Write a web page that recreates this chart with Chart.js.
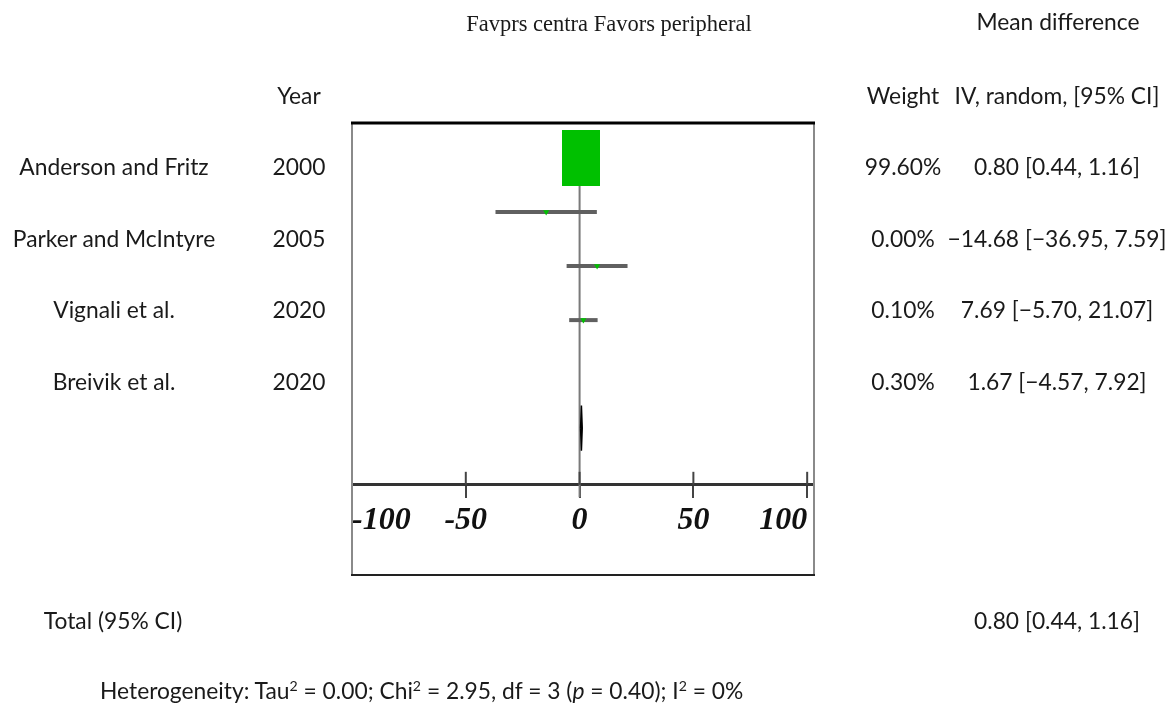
<!DOCTYPE html>
<html>
<head>
<meta charset="utf-8">
<script src="https://cdn.jsdelivr.net/npm/chart.js@4.4.0/dist/chart.umd.min.js"></script>
<style>
html, body { margin: 0; padding: 0; background: #fff; }
#wrap { position: relative; width: 1170px; height: 705px; overflow: hidden; }
#plot { position: absolute; left: 0; top: 0; }
.t {
    position: absolute;
    font-family: Lato, 'Open Sans', sans-serif;
    font-size: 22.8px;
    color: #1a1a1a;
    white-space: nowrap;
    line-height: 1;
    transform: translate(-50%, -50%);
}
.left { transform: translate(0, -50%); }
.serif { font-family: 'Liberation Serif', serif; font-size: 22.5px; }
sup { font-size: 0.62em; vertical-align: 0.55em; line-height: 0; }
</style>
</head>
<body>
<div id="wrap">
    <canvas id="plot" width="1170" height="705"></canvas>
</div>
<script>
// Study data
const studies = ['Anderson and Fritz', 'Parker and McIntyre', 'Vignali et al.', 'Breivik et al.'];
const years = ['2000', '2005', '2020', '2020'];
const weights = ['99.60%', '0.00%', '0.10%', '0.30%'];
const meanDiff = [0.80, -14.68, 7.69, 1.67];
const ciLow = [0.44, -36.95, -5.70, -4.57];
const ciHigh = [1.16, 7.59, 21.07, 7.92];

// Pooled result
const totalMD = 0.80;
const totalLow = 0.44;
const totalHigh = 1.16;

const xTicks = [-100, -50, 0, 50, 100];

const totalRow = 6;   // row of the diamond in plot units
const axisRow = 7.05; // row where the x axis sits

const fmt = v => (v < 0 ? '\u2212' + Math.abs(v).toFixed(2) : v.toFixed(2));
const ciText = (m, lo, hi) => `${fmt(m)} [${fmt(lo)}, ${fmt(hi)}]`;

// Text around the plot
const wrap = document.getElementById('wrap');
function addText(html, x, y, cls) {
    const d = document.createElement('div');
    d.className = 't' + (cls ? ' ' + cls : '');
    d.style.left = x + 'px';
    d.style.top = y + 'px';
    d.innerHTML = html;
    wrap.appendChild(d);
}

addText('Favprs centra Favors peripheral', 609, 24, 'serif');
addText('Mean difference', 1058, 21);
addText('Year', 299, 95);
addText('Weight', 903, 95);
addText('IV, random, [95% CI]', 1057, 95);

const rowY = [166, 238, 309, 381];
studies.forEach((s, i) => {
    addText(s, 114, rowY[i]);
    addText(years[i], 299, rowY[i]);
    addText(weights[i], 903, rowY[i]);
    addText(ciText(meanDiff[i], ciLow[i], ciHigh[i]), 1057, rowY[i]);
});

addText('Total (95% CI)', 113, 620);
addText(ciText(totalMD, totalLow, totalHigh), 1057, 620);
addText('Heterogeneity: Tau<sup>2</sup> = 0.00; Chi<sup>2</sup> = 2.95, df = 3 (<i>p</i> = 0.40); I<sup>2</sup> = 0%', 100, 690, 'left');

// Big weight box for the first study
const box = document.createElement('canvas');
box.width = 38;
box.height = 56;
const bctx = box.getContext('2d');
bctx.fillStyle = '#00c000';
bctx.fillRect(0, 0, 38, 56);

// Frame around the plot and tick marks crossing the axis
const framePlugin = {
    id: 'frame',
    afterDatasetsDraw(chart) {
        const {ctx, chartArea: a, scales} = chart;
        const x = scales.x;
        const axisY = scales.y.getPixelForValue(axisRow);
        ctx.save();
        ctx.lineWidth = 2;
        ctx.strokeStyle = '#444';
        x.ticks.forEach((t, i) => {
            const px = x.getPixelForTick(i);
            ctx.beginPath();
            ctx.moveTo(px, axisY - 13);
            ctx.lineTo(px, axisY);
            ctx.stroke();
        });
        ctx.strokeStyle = '#8a8a8a';
        ctx.beginPath();
        ctx.moveTo(a.left, a.top);
        ctx.lineTo(a.left, a.bottom);
        ctx.moveTo(a.right, a.top);
        ctx.lineTo(a.right, a.bottom);
        ctx.stroke();
        ctx.strokeStyle = '#000';
        ctx.lineWidth = 3;
        ctx.beginPath();
        ctx.moveTo(a.left - 1, a.top);
        ctx.lineTo(a.right + 1, a.top);
        ctx.stroke();
        ctx.lineWidth = 2;
        ctx.strokeStyle = '#222';
        ctx.beginPath();
        ctx.moveTo(a.left - 1, a.bottom);
        ctx.lineTo(a.right + 1, a.bottom);
        ctx.stroke();
        ctx.restore();
    }
};

const ciSets = ciLow.map((lo, i) => ({
    data: [{x: lo, y: i + 1}, {x: ciHigh[i], y: i + 1}],
    showLine: true,
    borderColor: '#606060',
    borderWidth: 4,
    pointRadius: 0,
    order: 2
}));

new Chart(document.getElementById('plot'), {
    type: 'scatter',
    data: {
        datasets: [
            {
                // line of no effect
                data: [{x: 0, y: 1}, {x: 0, y: 7.28}],
                showLine: true,
                borderColor: '#7a7a7a',
                borderWidth: 2,
                pointRadius: 0,
                order: 3
            },
            ...ciSets,
            {
                // pooled diamond
                data: [
                    {x: totalLow, y: totalRow},
                    {x: totalMD, y: totalRow - 0.42},
                    {x: totalHigh, y: totalRow},
                    {x: totalMD, y: totalRow + 0.42},
                    {x: totalLow, y: totalRow}
                ],
                showLine: true,
                fill: 'shape',
                backgroundColor: '#000',
                borderColor: '#000',
                borderWidth: 1.5,
                pointRadius: 0,
                order: 1
            },
            {
                data: meanDiff.map((m, i) => ({x: m, y: i + 1})),
                pointStyle: ctx => (ctx.dataIndex === 0 ? box : 'triangle'),
                rotation: 180,
                pointRadius: 3.5,
                backgroundColor: '#00c000',
                borderWidth: 0,
                order: 0
            }
        ]
    },
    options: {
        responsive: false,
        animation: false,
        layout: {padding: {left: 352, top: 123, right: 356, bottom: 130}},
        plugins: {legend: {display: false}, tooltip: {enabled: false}},
        scales: {
            x: {
                type: 'linear',
                min: -100,
                max: 103,
                position: {y: axisRow},
                afterBuildTicks: scale => { scale.ticks = xTicks.map(v => ({value: v})); },
                ticks: {
                    align: 'inner',
                    maxRotation: 0,
                    padding: 5,
                    color: '#111',
                    font: {family: 'Liberation Serif', size: 32, style: 'italic', weight: 'bold'}
                },
                grid: {drawOnChartArea: false, tickLength: 12, color: '#444', lineWidth: 2},
                border: {display: true, color: '#333', width: 3}
            },
            y: {
                type: 'linear',
                reverse: true,
                min: 0.35,
                max: 8.72,
                display: false
            }
        }
    },
    plugins: [framePlugin]
});
</script>
</body>
</html>
